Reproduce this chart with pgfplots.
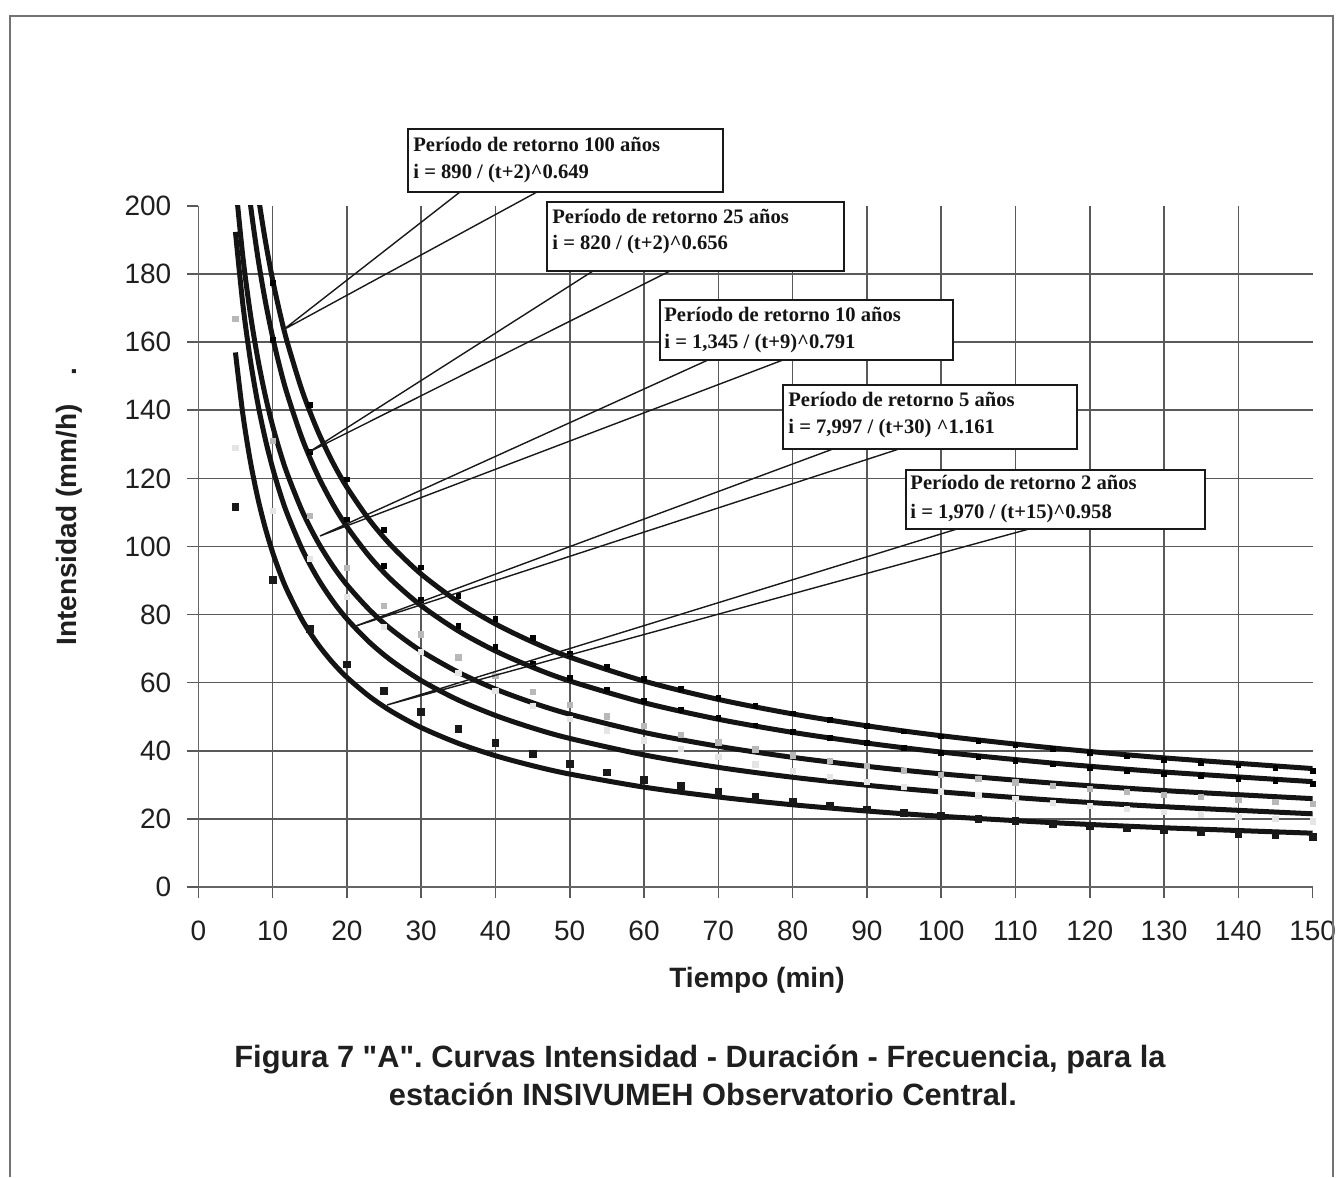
\documentclass[border=0pt]{standalone}
\usepackage{pgfplots}
\pgfplotsset{compat=1.18}
\usepackage{fontspec}
\setmainfont{Liberation Sans}
\newfontfamily\rawsans{Liberation Sans}[Ligatures=TeXOff]
\newfontfamily\boxfont{Liberation Serif}
\frenchspacing
\begin{document}
\begin{tikzpicture}
\path[use as bounding box] (0,0) rectangle (671pt,588.5pt);
\fill[white] (0,0) rectangle (671pt,588.5pt);
\begin{axis}[
  at={(99.15pt,145pt)}, anchor=south west,
  scale only axis, width=557.15pt, height=340.5pt,
  xmin=0, xmax=150, ymin=0, ymax=200,
  axis x line*=bottom, axis y line*=left,
  axis line style={black!60, line width=0.8pt},
  xtick={0,10,...,140}, extra x ticks={150},
  ytick={0,20,...,180}, extra y ticks={200},
  extra x tick style={grid=none}, extra y tick style={grid=none},
  grid=major, major grid style={black!65, line width=0.8pt},
  tick align=outside, major tick length=5.5pt,
  every tick/.style={black!65, line width=0.8pt},
  ticklabel style={font=\fontsize{14}{14}\selectfont, text=black!88},
  xticklabel style={yshift=-8pt},
  yticklabel style={xshift=-4.5pt},
  /pgf/number format/assume math mode=true,
  clip=true,
]
% trendlines
\addplot[black!92, line width=2.5pt, smooth, no markers] table {
7 221.28
8 204.14
9 190.13
10 178.41
11 168.43
12 159.81
14 145.61
16 134.33
18 125.11
20 117.40
23 107.90
26 100.20
30 91.91
35 83.74
40 77.25
45 71.95
50 67.51
60 60.47
70 55.10
80 50.83
90 47.34
100 44.42
115 40.83
130 37.92
150 34.78
};
\addplot[black!92, line width=2.5pt, smooth, no markers] table {
6 220.66
7 200.84
8 185.13
9 172.29
10 161.56
11 152.43
12 144.54
14 131.57
16 121.27
18 112.86
20 105.83
23 97.18
26 90.17
30 82.63
35 75.21
40 69.32
45 64.52
50 60.50
60 54.13
70 49.27
80 45.41
90 42.26
100 39.63
115 36.39
130 33.77
150 30.94
};
\addplot[black!92, line width=2.5pt, smooth, no markers] table {
5 206.82
6 185.05
7 168.42
8 155.25
9 144.48
10 135.48
11 127.83
12 121.21
14 110.33
16 101.70
18 94.64
20 88.75
23 81.50
26 75.62
30 69.29
35 63.07
40 58.13
45 54.11
50 50.74
60 45.39
70 41.32
80 38.08
90 35.44
100 33.23
115 30.52
130 28.32
150 25.95
};
\addplot[black!92, line width=2.5pt, smooth, no markers] table {
5 192.37
6 171.05
7 154.88
8 142.11
9 131.72
10 123.08
11 115.75
12 109.44
14 99.09
16 90.92
18 84.28
20 78.74
23 71.96
26 66.50
30 60.64
35 54.91
40 50.38
45 46.70
50 43.64
60 38.80
70 35.13
80 32.23
90 29.88
100 27.92
115 25.51
130 23.58
150 21.50
};
\addplot[black!92, line width=2.5pt, smooth, no markers] table {
5 156.99
6 138.80
7 125.09
8 114.30
9 105.57
10 98.32
11 92.19
12 86.93
14 78.34
16 71.59
18 66.12
20 61.58
23 56.03
26 51.58
30 46.83
35 42.20
40 38.56
45 35.62
50 33.17
60 29.33
70 26.43
80 24.15
90 22.31
100 20.77
115 18.90
130 17.40
150 15.80
};
% observed points
\addplot[only marks, mark=square*, mark size=1.2pt, black] table {
10 177.42
15 141.53
20 119.72
25 104.82
30 93.88
35 85.43
40 78.69
45 73.15
50 68.50
55 64.54
60 61.11
65 58.11
70 55.46
75 53.10
80 50.97
85 49.05
90 47.30
95 45.71
100 44.24
105 42.89
110 41.63
115 40.47
120 39.39
125 38.37
130 37.42
135 36.53
140 35.69
145 34.90
150 34.15
};
\addplot[only marks, mark=square*, mark size=1.2pt, black] table {
10 160.65
15 127.83
20 107.94
25 94.37
30 84.42
35 76.75
40 70.63
45 65.60
50 61.39
55 57.80
60 54.70
65 51.99
70 49.59
75 47.45
80 45.54
85 43.80
90 42.22
95 40.78
100 39.46
105 38.24
110 37.11
115 36.07
120 35.09
125 34.18
130 33.32
135 32.52
140 31.76
145 31.05
150 30.38
};
\addplot[only marks, mark=square*, mark size=1.3pt, black!28] table {
5 166.78
10 130.99
15 108.89
20 93.75
25 82.67
30 74.16
35 67.41
40 61.91
45 57.33
50 53.45
55 50.12
60 47.23
65 44.68
70 42.44
75 40.42
80 38.62
85 36.98
90 35.50
95 34.14
100 32.89
105 31.75
110 30.69
115 29.71
120 28.79
125 27.94
130 27.14
135 26.39
140 25.69
145 25.03
150 24.40
};
\addplot[only marks, mark=square*, mark size=1.3pt, black!10] table {
5 128.90
10 110.39
15 96.29
20 85.20
25 76.27
30 68.94
35 62.83
40 57.64
45 53.21
50 49.37
55 46.01
60 43.06
65 40.44
70 38.10
75 36.00
80 34.11
85 32.39
90 30.83
95 29.41
100 28.10
105 26.89
110 25.78
115 24.75
120 23.80
125 22.91
130 22.08
135 21.30
140 20.58
145 19.90
150 19.26
};
\addplot[only marks, mark=square*, mark size=1.7pt, black!90] table {
5 111.71
10 90.20
15 75.75
20 65.35
25 57.50
30 51.37
35 46.44
40 42.39
45 38.99
50 36.12
55 33.64
60 31.49
65 29.60
70 27.93
75 26.44
80 25.11
85 23.90
90 22.81
95 21.82
100 20.91
105 20.07
110 19.30
115 18.59
120 17.93
125 17.32
130 16.74
135 16.21
140 15.71
145 15.24
150 14.79
};
\end{axis}
\begin{scope}[x=0.5pt,y=-0.5pt,shift={(0pt,588.5pt)}]
% outer frame
\draw[black!55, line width=0.6pt] (10,1177) -- (10,16) -- (1333,16) -- (1333,1177);
% callout pointers
\draw[black!90, line width=0.7pt] (460,192) -- (283,330) -- (537,192);
\draw[black!90, line width=0.7pt] (593,271) -- (309,452) -- (670,271);
\draw[black!90, line width=0.7pt] (708,360) -- (320,536) -- (783,360);
\draw[black!90, line width=0.7pt] (833,449) -- (353,627) -- (899,449);
\draw[black!90, line width=0.7pt] (957,529) -- (387,705) -- (1029,529);
% callout boxes
\tikzset{cb/.style={draw=black!90, line width=0.85pt, fill=white},
         ct/.style={anchor=base west, inner sep=0pt, text=black!92, font=\boxfont\bfseries\fontsize{10.3}{10.3}\selectfont}}
\path[cb] (408,129) rectangle (723,192);
\node[ct] at (413,151.7) {Período de retorno 100 años};
\node[ct] at (413,178.3) {i = 890 / (t+2)\textasciicircum 0.649};
\path[cb] (547,202) rectangle (844,271);
\node[ct] at (552,223.3) {Período de retorno 25 años};
\node[ct] at (552,250) {i = 820 / (t+2)\textasciicircum 0.656};
\path[cb] (660,300) rectangle (953,360);
\node[ct] at (664,321.7) {Período de retorno 10 años};
\node[ct] at (664,348.3) {i = 1,345 / (t+9)\textasciicircum 0.791};
\path[cb] (783,385) rectangle (1077,449);
\node[ct] at (788,406.7) {Período de retorno 5 años};
\node[ct] at (788,433.3) {i = 7,997 / (t+30) \textasciicircum 1.161};
\path[cb] (906,470) rectangle (1205,529);
\node[ct] at (910,490) {Período de retorno 2 años};
\node[ct] at (910,518.3) {i = 1,970 / (t+15)\textasciicircum 0.958};
% axis titles
\node[anchor=base, inner sep=0pt, text=black!88, font=\bfseries\fontsize{14}{14}\selectfont] at (757,988) {Tiempo (min)};
\node[anchor=base, inner sep=0pt, rotate=90, text=black!88, font=\bfseries\fontsize{14}{14}\selectfont] at (76,525) {Intensidad (mm/h)};
\node[anchor=base, inner sep=0pt, rotate=90, text=black!88, font=\bfseries\fontsize{14}{14}\selectfont] at (76,372) {.};
% caption
\node[anchor=base, inner sep=0pt, text=black!88, font=\rawsans\bfseries\fontsize{15.4}{15.4}\selectfont] at (700,1067) {Figura 7 "A". Curvas Intensidad - Duración - Frecuencia, para la};
\node[anchor=base, inner sep=0pt, text=black!88, font=\rawsans\bfseries\fontsize{15.4}{15.4}\selectfont] at (703,1105) {estación INSIVUMEH Observatorio Central.};
\end{scope}
\end{tikzpicture}
\end{document}
